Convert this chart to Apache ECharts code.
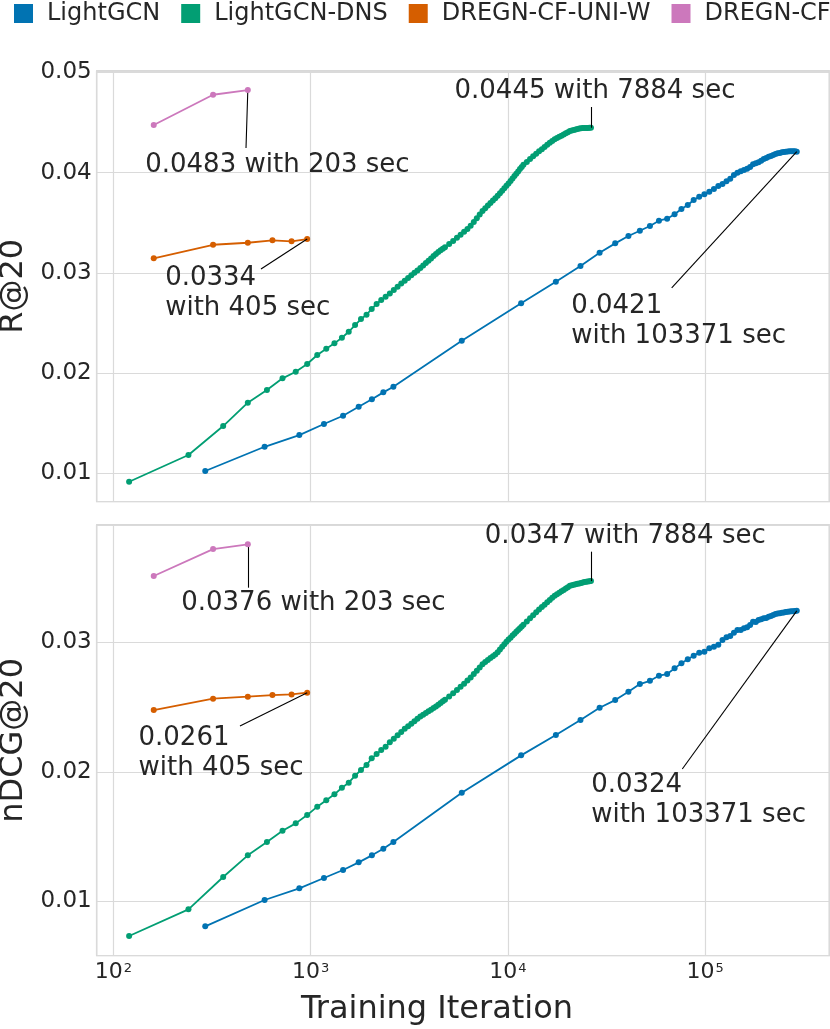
<!DOCTYPE html>
<html>
<head>
<meta charset="utf-8">
<script src="https://cdn.jsdelivr.net/npm/echarts@6/dist/echarts.min.js"></script>
<style>
html,body{margin:0;padding:0;background:#fff;}
#chart{width:830px;height:1029px;}
</style>
</head>
<body>
<div id="chart"></div>
<script>
// ---------- data ----------
const seriesNames = ['LightGCN', 'LightGCN-DNS', 'DREGN-CF-UNI-W', 'DREGN-CF'];

const lightgcnIter = [292, 584, 876, 1168, 1460, 1752, 2044, 2336, 2628,
  5840, 11680, 17520, 23360, 29200, 35040, 40880, 46720, 52560, 58400,
  64240, 70080, 75920, 81760, 87600, 93440, 99280, 105120, 110960, 116800,
  122640, 128480, 134320, 140160, 146000, 151840, 157680, 163520, 169360, 175200,
  181040, 186880, 192720, 198560, 204400, 210240, 216080, 221920, 227760, 233600,
  239440, 245280, 251120, 256960, 262800, 268640, 274480, 280320, 286160, 292000];
const lightgcnRecall = [0.01023, 0.01265, 0.01382, 0.01492, 0.01575, 0.01665, 0.01739, 0.01808, 0.01864,
  0.02323, 0.02697, 0.02912, 0.03069, 0.03202, 0.03295, 0.03368, 0.03421, 0.03468, 0.03521,
  0.03541, 0.03585, 0.03638, 0.03678, 0.03728, 0.03761, 0.03784, 0.03810, 0.03837, 0.03867,
  0.03887, 0.03914, 0.03940, 0.03977, 0.04000, 0.04014, 0.04027, 0.04040, 0.04057, 0.04084,
  0.04094, 0.04104, 0.04120, 0.04137, 0.04147, 0.04160, 0.04167, 0.04177, 0.04187, 0.04194,
  0.04197, 0.04204, 0.04207, 0.04210, 0.04212, 0.04214, 0.04214, 0.04213, 0.04215, 0.04210];
const lightgcnNdcg = [0.00807, 0.01010, 0.01100, 0.01180, 0.01242, 0.01301, 0.01355, 0.01406, 0.01458,
  0.01839, 0.02127, 0.02284, 0.02400, 0.02495, 0.02554, 0.02619, 0.02678, 0.02703, 0.02742,
  0.02755, 0.02799, 0.02838, 0.02869, 0.02897, 0.02920, 0.02927, 0.02954, 0.02966, 0.02981,
  0.03018, 0.03039, 0.03049, 0.03074, 0.03095, 0.03095, 0.03108, 0.03116, 0.03134, 0.03159,
  0.03157, 0.03172, 0.03178, 0.03185, 0.03188, 0.03198, 0.03203, 0.03211, 0.03218, 0.03222,
  0.03225, 0.03228, 0.03231, 0.03234, 0.03236, 0.03238, 0.03239, 0.03240, 0.03241, 0.03243];

const dnsIter = [120, 240, 360, 480, 600, 720, 840, 960, 1080, 1200,
  1320, 1440, 1560, 1680, 1800, 1920, 2040, 2160, 2280, 2400,
  2520, 2640, 2760, 2880, 3000, 3120, 3240, 3360, 3480, 3600,
  3720, 3840, 3960, 4080, 4200, 4320, 4440, 4560, 4680, 4800,
  5040, 5280, 5520, 5760, 6000, 6240, 6480, 6720, 6960, 7200,
  7440, 7680, 7920, 8160, 8400, 8640, 8880, 9120, 9360, 9600,
  9840, 10080, 10320, 10560, 10800, 11040, 11280, 11520, 11760, 12000,
  12480, 12960, 13440, 13920, 14400, 14880, 15360, 15840, 16320, 16800,
  17280, 17760, 18240, 18720, 19200, 19680, 20160, 20640, 21120, 21600,
  22080, 22560, 23040, 23520, 24000, 24480, 24960, 25440, 25920, 26400];
const dnsRecall = [0.00916, 0.01183, 0.01472, 0.01705, 0.01831, 0.01948, 0.02014, 0.02091, 0.02181, 0.02244,
  0.02297, 0.02353, 0.02413, 0.02480, 0.02540, 0.02583, 0.02640, 0.02690, 0.02730, 0.02762,
  0.02795, 0.02830, 0.02863, 0.02894, 0.02923, 0.02950, 0.02976, 0.03001, 0.03025, 0.03048,
  0.03074, 0.03098, 0.03122, 0.03145, 0.03168, 0.03190, 0.03208, 0.03225, 0.03241, 0.03257,
  0.03288, 0.03318, 0.03350, 0.03381, 0.03411, 0.03439, 0.03470, 0.03509, 0.03546, 0.03582,
  0.03617, 0.03646, 0.03672, 0.03697, 0.03722, 0.03745, 0.03770, 0.03796, 0.03821, 0.03846,
  0.03870, 0.03893, 0.03917, 0.03942, 0.03966, 0.03990, 0.04013, 0.04036, 0.04058, 0.04079,
  0.04108, 0.04137, 0.04164, 0.04190, 0.04213, 0.04235, 0.04257, 0.04278, 0.04298, 0.04317,
  0.04333, 0.04346, 0.04358, 0.04370, 0.04382, 0.04393, 0.04405, 0.04416, 0.04421, 0.04426,
  0.04431, 0.04436, 0.04441, 0.04444, 0.04445, 0.04446, 0.04447, 0.04447, 0.04448, 0.04449];
const dnsNdcg = [0.00732, 0.00938, 0.01188, 0.01355, 0.01458, 0.01545, 0.01602, 0.01666, 0.01731, 0.01780,
  0.01826, 0.01877, 0.01916, 0.01970, 0.02014, 0.02053, 0.02104, 0.02137, 0.02168, 0.02194,
  0.02228, 0.02256, 0.02283, 0.02308, 0.02332, 0.02352, 0.02372, 0.02391, 0.02410, 0.02427,
  0.02441, 0.02455, 0.02468, 0.02480, 0.02493, 0.02505, 0.02518, 0.02531, 0.02545, 0.02557,
  0.02582, 0.02606, 0.02632, 0.02657, 0.02681, 0.02705, 0.02728, 0.02755, 0.02781, 0.02806,
  0.02831, 0.02849, 0.02864, 0.02878, 0.02893, 0.02906, 0.02923, 0.02944, 0.02965, 0.02985,
  0.03005, 0.03021, 0.03036, 0.03052, 0.03066, 0.03081, 0.03095, 0.03109, 0.03122, 0.03135,
  0.03161, 0.03186, 0.03210, 0.03233, 0.03253, 0.03272, 0.03291, 0.03309, 0.03327, 0.03344,
  0.03359, 0.03371, 0.03382, 0.03394, 0.03405, 0.03416, 0.03426, 0.03437, 0.03441, 0.03444,
  0.03448, 0.03452, 0.03455, 0.03459, 0.03462, 0.03465, 0.03467, 0.03469, 0.03471, 0.03473];

const uniwIter = [160, 320, 480, 640, 800, 960];
const uniwRecall = [0.03146, 0.03281, 0.03301, 0.03325, 0.03315, 0.03338];
const uniwNdcg = [0.02477, 0.02565, 0.02580, 0.02593, 0.02598, 0.02611];

const dregnIter = [160, 320, 480];
const dregnRecall = [0.04476, 0.04778, 0.04825];
const dregnNdcg = [0.03512, 0.03720, 0.03757];

const annoRecall = ['0.0421\nwith 103371 sec', '0.0445 with 7884 sec', '0.0334\nwith 405 sec', '0.0483 with 203 sec'];
const annoNdcg = ['0.0324\nwith 103371 sec', '0.0347 with 7884 sec', '0.0261\nwith 405 sec', '0.0376 with 203 sec'];

// ---------- styling ----------
const colors = ['#0173B2', '#029E73', '#D55E00', '#CC78BC'];
const FONT = 'DejaVu Sans';
const TXT = '#262626';

function zip(xs, ys) { return xs.map((x, i) => [x, ys[i]]); }

function annotate(text, textPos, lineFrom, lineTo) {
  return {
    markPoint: {
      symbol: 'circle', symbolSize: 1, silent: true, animation: false,
      itemStyle: { color: 'rgba(0,0,0,0)' },
      label: {
        show: true, position: [0, 0], align: 'left', verticalAlign: 'middle',
        fontFamily: FONT, fontSize: 26, lineHeight: 30, color: TXT,
        formatter: text
      },
      data: [{ coord: textPos, value: 0 }]
    },
    markLine: {
      silent: true, animation: false, symbol: ['none', 'none'],
      lineStyle: { color: '#000', width: 1.1, type: 'solid' },
      label: { show: false },
      data: [[{ coord: lineFrom }, { coord: lineTo }]]
    }
  };
}

function mkSeries(name, idx, xs, ys, gridIdx, anno) {
  return Object.assign({
    name: name, type: 'line',
    xAxisIndex: gridIdx, yAxisIndex: gridIdx,
    data: zip(xs, ys),
    symbol: 'circle', symbolSize: 6, showAllSymbol: true,
    lineStyle: { width: 1.8, color: colors[idx] },
    itemStyle: { color: colors[idx] },
    animation: false, z: 2 + idx
  }, anno);
}

const LOGMIN = 82.2, LOGMAX = 426900;

function xAxisCfg(gridIdx, showLabels) {
  return {
    type: 'log', logBase: 10, gridIndex: gridIdx, min: LOGMIN, max: LOGMAX,
    axisLine: { show: false }, axisTick: { show: false },
    splitLine: { show: true, lineStyle: { color: '#dadada', width: 1.2 } },
    minorSplitLine: { show: false },
    axisLabel: {
      show: showLabels, margin: 6, color: TXT, fontFamily: FONT,
      formatter: function (v) {
        const e = Math.log10(v), r = Math.round(e);
        if (Math.abs(e - r) > 1e-6) return '';
        return '{b|10}{s|' + r + '}';
      },
      rich: {
        b: { fontSize: 22, lineHeight: 22, fontFamily: FONT, color: TXT, verticalAlign: 'bottom' },
        s: { fontSize: 13, lineHeight: 13, fontFamily: FONT, color: TXT, verticalAlign: 'top', padding: [0, 0, 10, 1] }
      }
    },
    name: showLabels ? 'Training Iteration' : '',
    nameLocation: 'middle', nameGap: 38,
    nameTextStyle: { fontSize: 32, fontFamily: FONT, color: TXT, padding: [0, 52, 0, 0] }
  };
}

function yAxisCfg(gridIdx, min, max, split, name) {
  return {
    type: 'value', gridIndex: gridIdx, min: min, max: max, splitNumber: split,
    axisLine: { show: false }, axisTick: { show: false },
    splitLine: { show: true, lineStyle: { color: '#dadada', width: 1.2 } },
    axisLabel: {
      margin: 5, fontSize: 23, color: TXT, fontFamily: FONT,
      formatter: function (v) {
        const k = v * 100;
        if (Math.abs(k - Math.round(k)) > 1e-6) return '';
        return v.toFixed(2);
      }
    },
    name: name, nameLocation: 'middle', nameGap: 63,
    nameTextStyle: { fontSize: 32, fontFamily: FONT, color: TXT }
  };
}

const gridBase = { left: 96.7, width: 732.6, height: 430.7, show: true, borderColor: '#cccccc', borderWidth: 1.3,
  backgroundColor: '#fff', containLabel: false, outerBoundsMode: 'none' };

const option = {
  backgroundColor: '#ffffff',
  animation: false,
  color: colors,
  legend: {
    data: seriesNames, left: 14, top: 1.5, width: 830, padding: 0,
    icon: 'rect', itemWidth: 19, itemHeight: 19, itemGap: 21,
    textStyle: { fontSize: 24, fontFamily: FONT, color: TXT, padding: [0, 0, 0, 9] }
  },
  grid: [
    Object.assign({ top: 71 }, gridBase),
    Object.assign({ top: 525 }, gridBase)
  ],
  xAxis: [xAxisCfg(0, false), xAxisCfg(1, true)],
  yAxis: [
    yAxisCfg(0, 0.00717, 0.05015, 4, 'R@20'),
    yAxisCfg(1, 0.0058, 0.03906, 3, 'nDCG@20')
  ],
  series: [
    mkSeries(seriesNames[0], 0, lightgcnIter, lightgcnRecall, 0,
      annotate(annoRecall[0], [21080, 0.02513], [67760, 0.02852], [292000, 0.04210])),
    mkSeries(seriesNames[1], 1, dnsIter, dnsRecall, 0,
      annotate(annoRecall[1], [5395, 0.04808], [26400, 0.04656], [26400, 0.04449])),
    mkSeries(seriesNames[2], 2, uniwIter, uniwRecall, 0,
      annotate(annoRecall[2], [183.9, 0.02789], [559.9, 0.03039], [960, 0.03338])),
    mkSeries(seriesNames[3], 3, dregnIter, dregnRecall, 0,
      annotate(annoRecall[3], [145.7, 0.04067], [470, 0.04247], [480, 0.04825])),
    mkSeries(seriesNames[0], 0, lightgcnIter, lightgcnNdcg, 1,
      annotate(annoNdcg[0], [26620, 0.01780], [76700, 0.02022], [292000, 0.03243])),
    mkSeries(seriesNames[1], 1, dnsIter, dnsNdcg, 1,
      annotate(annoNdcg[1], [7688, 0.03815], [26400, 0.03700], [26400, 0.03473])),
    mkSeries(seriesNames[2], 2, uniwIter, uniwNdcg, 1,
      annotate(annoNdcg[2], [134.7, 0.02136], [438, 0.02354], [960, 0.02611])),
    mkSeries(seriesNames[3], 3, dregnIter, dregnNdcg, 1,
      annotate(annoNdcg[3], [221.8, 0.03296], [480, 0.03422], [480, 0.03757]))
  ]
};

const chart = echarts.init(document.getElementById('chart'), null, { renderer: 'canvas' });
chart.setOption(option);
</script>
</body>
</html>
